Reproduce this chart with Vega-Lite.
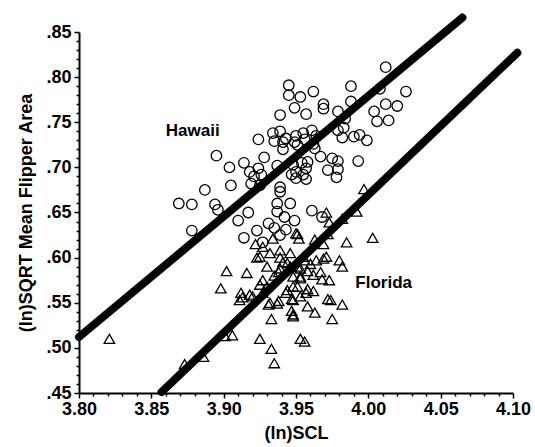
{
  "$schema": "https://vega.github.io/schema/vega-lite/v6.json",
  "autosize": {"type": "none"},
  "padding": {"left": 79, "top": 32, "right": 22, "bottom": 54},
  "width": 434,
  "height": 361,
  "background": "white",
  "config": {
    "view": {"stroke": null},
    "font": "Liberation Sans"
  },
  "datasets": {
    "pts": [
      {"x": 4.012, "y": 0.811, "site": "Hawaii"},
      {"x": 3.945, "y": 0.791, "site": "Hawaii"},
      {"x": 3.988, "y": 0.790, "site": "Hawaii"},
      {"x": 3.962, "y": 0.784, "site": "Hawaii"},
      {"x": 3.945, "y": 0.780, "site": "Hawaii"},
      {"x": 3.953, "y": 0.778, "site": "Hawaii"},
      {"x": 4.026, "y": 0.784, "site": "Hawaii"},
      {"x": 4.008, "y": 0.787, "site": "Hawaii"},
      {"x": 3.988, "y": 0.773, "site": "Hawaii"},
      {"x": 4.012, "y": 0.770, "site": "Hawaii"},
      {"x": 4.020, "y": 0.768, "site": "Hawaii"},
      {"x": 4.004, "y": 0.762, "site": "Hawaii"},
      {"x": 3.969, "y": 0.770, "site": "Hawaii"},
      {"x": 3.969, "y": 0.765, "site": "Hawaii"},
      {"x": 3.949, "y": 0.766, "site": "Hawaii"},
      {"x": 3.979, "y": 0.762, "site": "Hawaii"},
      {"x": 3.957, "y": 0.759, "site": "Hawaii"},
      {"x": 3.939, "y": 0.758, "site": "Hawaii"},
      {"x": 4.006, "y": 0.751, "site": "Hawaii"},
      {"x": 4.014, "y": 0.752, "site": "Hawaii"},
      {"x": 3.984, "y": 0.754, "site": "Hawaii"},
      {"x": 3.983, "y": 0.744, "site": "Hawaii"},
      {"x": 3.934, "y": 0.738, "site": "Hawaii"},
      {"x": 3.939, "y": 0.740, "site": "Hawaii"},
      {"x": 3.943, "y": 0.732, "site": "Hawaii"},
      {"x": 3.961, "y": 0.741, "site": "Hawaii"},
      {"x": 3.964, "y": 0.735, "site": "Hawaii"},
      {"x": 3.950, "y": 0.735, "site": "Hawaii"},
      {"x": 3.955, "y": 0.738, "site": "Hawaii"},
      {"x": 3.924, "y": 0.731, "site": "Hawaii"},
      {"x": 3.935, "y": 0.729, "site": "Hawaii"},
      {"x": 3.941, "y": 0.728, "site": "Hawaii"},
      {"x": 3.949, "y": 0.728, "site": "Hawaii"},
      {"x": 3.951, "y": 0.725, "site": "Hawaii"},
      {"x": 3.956, "y": 0.731, "site": "Hawaii"},
      {"x": 3.962, "y": 0.726, "site": "Hawaii"},
      {"x": 3.982, "y": 0.733, "site": "Hawaii"},
      {"x": 3.990, "y": 0.734, "site": "Hawaii"},
      {"x": 3.994, "y": 0.736, "site": "Hawaii"},
      {"x": 3.999, "y": 0.730, "site": "Hawaii"},
      {"x": 3.979, "y": 0.741, "site": "Hawaii"},
      {"x": 3.963, "y": 0.721, "site": "Hawaii"},
      {"x": 3.941, "y": 0.720, "site": "Hawaii"},
      {"x": 3.928, "y": 0.711, "site": "Hawaii"},
      {"x": 3.967, "y": 0.712, "site": "Hawaii"},
      {"x": 3.975, "y": 0.710, "site": "Hawaii"},
      {"x": 3.979, "y": 0.707, "site": "Hawaii"},
      {"x": 3.993, "y": 0.707, "site": "Hawaii"},
      {"x": 3.958, "y": 0.706, "site": "Hawaii"},
      {"x": 3.937, "y": 0.702, "site": "Hawaii"},
      {"x": 3.914, "y": 0.705, "site": "Hawaii"},
      {"x": 3.895, "y": 0.713, "site": "Hawaii"},
      {"x": 3.904, "y": 0.700, "site": "Hawaii"},
      {"x": 3.918, "y": 0.695, "site": "Hawaii"},
      {"x": 3.924, "y": 0.699, "site": "Hawaii"},
      {"x": 3.921, "y": 0.690, "site": "Hawaii"},
      {"x": 3.926, "y": 0.692, "site": "Hawaii"},
      {"x": 3.919, "y": 0.682, "site": "Hawaii"},
      {"x": 3.925, "y": 0.680, "site": "Hawaii"},
      {"x": 3.905, "y": 0.680, "site": "Hawaii"},
      {"x": 3.948, "y": 0.703, "site": "Hawaii"},
      {"x": 3.954, "y": 0.705, "site": "Hawaii"},
      {"x": 3.957, "y": 0.699, "site": "Hawaii"},
      {"x": 3.950, "y": 0.695, "site": "Hawaii"},
      {"x": 3.947, "y": 0.692, "site": "Hawaii"},
      {"x": 3.955, "y": 0.692, "site": "Hawaii"},
      {"x": 3.950, "y": 0.688, "site": "Hawaii"},
      {"x": 3.957, "y": 0.687, "site": "Hawaii"},
      {"x": 3.972, "y": 0.697, "site": "Hawaii"},
      {"x": 3.979, "y": 0.698, "site": "Hawaii"},
      {"x": 3.978, "y": 0.689, "site": "Hawaii"},
      {"x": 3.887, "y": 0.675, "site": "Hawaii"},
      {"x": 3.869, "y": 0.660, "site": "Hawaii"},
      {"x": 3.878, "y": 0.659, "site": "Hawaii"},
      {"x": 3.894, "y": 0.659, "site": "Hawaii"},
      {"x": 3.896, "y": 0.653, "site": "Hawaii"},
      {"x": 3.878, "y": 0.630, "site": "Hawaii"},
      {"x": 3.910, "y": 0.641, "site": "Hawaii"},
      {"x": 3.917, "y": 0.650, "site": "Hawaii"},
      {"x": 3.914, "y": 0.622, "site": "Hawaii"},
      {"x": 3.923, "y": 0.630, "site": "Hawaii"},
      {"x": 3.939, "y": 0.678, "site": "Hawaii"},
      {"x": 3.939, "y": 0.673, "site": "Hawaii"},
      {"x": 3.937, "y": 0.660, "site": "Hawaii"},
      {"x": 3.946, "y": 0.660, "site": "Hawaii"},
      {"x": 3.937, "y": 0.651, "site": "Hawaii"},
      {"x": 3.942, "y": 0.645, "site": "Hawaii"},
      {"x": 3.949, "y": 0.641, "site": "Hawaii"},
      {"x": 3.931, "y": 0.638, "site": "Hawaii"},
      {"x": 3.935, "y": 0.633, "site": "Hawaii"},
      {"x": 3.961, "y": 0.652, "site": "Hawaii"},
      {"x": 3.968, "y": 0.645, "site": "Hawaii"},
      {"x": 3.939, "y": 0.625, "site": "Hawaii"},
      {"x": 3.927, "y": 0.617, "site": "Hawaii"},
      {"x": 3.943, "y": 0.631, "site": "Hawaii"},
      {"x": 3.997, "y": 0.676, "site": "Florida"},
      {"x": 3.971, "y": 0.650, "site": "Florida"},
      {"x": 3.992, "y": 0.651, "site": "Florida"},
      {"x": 3.973, "y": 0.639, "site": "Florida"},
      {"x": 3.982, "y": 0.643, "site": "Florida"},
      {"x": 3.951, "y": 0.626, "site": "Florida"},
      {"x": 3.952, "y": 0.621, "site": "Florida"},
      {"x": 3.934, "y": 0.621, "site": "Florida"},
      {"x": 3.963, "y": 0.620, "site": "Florida"},
      {"x": 3.922, "y": 0.615, "site": "Florida"},
      {"x": 3.972, "y": 0.626, "site": "Florida"},
      {"x": 3.969, "y": 0.615, "site": "Florida"},
      {"x": 3.985, "y": 0.617, "site": "Florida"},
      {"x": 4.003, "y": 0.622, "site": "Florida"},
      {"x": 3.925, "y": 0.601, "site": "Florida"},
      {"x": 3.932, "y": 0.605, "site": "Florida"},
      {"x": 3.939, "y": 0.608, "site": "Florida"},
      {"x": 3.946, "y": 0.605, "site": "Florida"},
      {"x": 3.956, "y": 0.597, "site": "Florida"},
      {"x": 3.969, "y": 0.599, "site": "Florida"},
      {"x": 3.980, "y": 0.597, "site": "Florida"},
      {"x": 3.982, "y": 0.590, "site": "Florida"},
      {"x": 3.902, "y": 0.585, "site": "Florida"},
      {"x": 3.916, "y": 0.583, "site": "Florida"},
      {"x": 3.898, "y": 0.566, "site": "Florida"},
      {"x": 3.939, "y": 0.588, "site": "Florida"},
      {"x": 3.951, "y": 0.590, "site": "Florida"},
      {"x": 3.948, "y": 0.579, "site": "Florida"},
      {"x": 3.953, "y": 0.579, "site": "Florida"},
      {"x": 3.962, "y": 0.581, "site": "Florida"},
      {"x": 3.968, "y": 0.576, "site": "Florida"},
      {"x": 3.973, "y": 0.575, "site": "Florida"},
      {"x": 3.912, "y": 0.561, "site": "Florida"},
      {"x": 3.913, "y": 0.556, "site": "Florida"},
      {"x": 3.920, "y": 0.557, "site": "Florida"},
      {"x": 3.927, "y": 0.561, "site": "Florida"},
      {"x": 3.948, "y": 0.568, "site": "Florida"},
      {"x": 3.958, "y": 0.565, "site": "Florida"},
      {"x": 3.962, "y": 0.563, "site": "Florida"},
      {"x": 3.943, "y": 0.561, "site": "Florida"},
      {"x": 3.932, "y": 0.550, "site": "Florida"},
      {"x": 3.938, "y": 0.552, "site": "Florida"},
      {"x": 3.947, "y": 0.554, "site": "Florida"},
      {"x": 3.953, "y": 0.557, "site": "Florida"},
      {"x": 3.958, "y": 0.546, "site": "Florida"},
      {"x": 3.963, "y": 0.539, "site": "Florida"},
      {"x": 3.972, "y": 0.554, "site": "Florida"},
      {"x": 3.982, "y": 0.548, "site": "Florida"},
      {"x": 3.947, "y": 0.541, "site": "Florida"},
      {"x": 3.948, "y": 0.537, "site": "Florida"},
      {"x": 3.933, "y": 0.532, "site": "Florida"},
      {"x": 3.975, "y": 0.532, "site": "Florida"},
      {"x": 3.925, "y": 0.510, "site": "Florida"},
      {"x": 3.906, "y": 0.514, "site": "Florida"},
      {"x": 3.901, "y": 0.513, "site": "Florida"},
      {"x": 3.953, "y": 0.510, "site": "Florida"},
      {"x": 3.956, "y": 0.507, "site": "Florida"},
      {"x": 3.933, "y": 0.499, "site": "Florida"},
      {"x": 3.935, "y": 0.483, "site": "Florida"},
      {"x": 3.821, "y": 0.510, "site": "Florida"},
      {"x": 3.873, "y": 0.482, "site": "Florida"},
      {"x": 3.886, "y": 0.490, "site": "Florida"},
      {"x": 3.923, "y": 0.600, "site": "Florida"},
      {"x": 3.939, "y": 0.600, "site": "Florida"},
      {"x": 3.955, "y": 0.601, "site": "Florida"},
      {"x": 3.964, "y": 0.597, "site": "Florida"},
      {"x": 3.971, "y": 0.601, "site": "Florida"},
      {"x": 3.930, "y": 0.590, "site": "Florida"},
      {"x": 3.938, "y": 0.584, "site": "Florida"},
      {"x": 3.944, "y": 0.594, "site": "Florida"},
      {"x": 3.953, "y": 0.588, "site": "Florida"},
      {"x": 3.953, "y": 0.577, "site": "Florida"},
      {"x": 3.967, "y": 0.584, "site": "Florida"},
      {"x": 3.918, "y": 0.559, "site": "Florida"},
      {"x": 3.911, "y": 0.553, "site": "Florida"},
      {"x": 3.930, "y": 0.568, "site": "Florida"},
      {"x": 3.944, "y": 0.564, "site": "Florida"},
      {"x": 3.951, "y": 0.568, "site": "Florida"},
      {"x": 3.957, "y": 0.561, "site": "Florida"},
      {"x": 3.948, "y": 0.553, "site": "Florida"},
      {"x": 3.931, "y": 0.548, "site": "Florida"},
      {"x": 3.937, "y": 0.549, "site": "Florida"},
      {"x": 3.948, "y": 0.535, "site": "Florida"},
      {"x": 3.974, "y": 0.553, "site": "Florida"},
      {"x": 3.950, "y": 0.627, "site": "Florida"},
      {"x": 3.927, "y": 0.612, "site": "Florida"},
      {"x": 3.941, "y": 0.595, "site": "Florida"},
      {"x": 3.946, "y": 0.590, "site": "Florida"},
      {"x": 3.935, "y": 0.580, "site": "Florida"},
      {"x": 3.927, "y": 0.575, "site": "Florida"},
      {"x": 3.925, "y": 0.570, "site": "Florida"},
      {"x": 3.960, "y": 0.593, "site": "Florida"},
      {"x": 3.958, "y": 0.585, "site": "Florida"}
    ],
    "lines": [
      {"x": 3.80, "y": 0.512, "site": "Hawaii"},
      {"x": 4.065, "y": 0.866, "site": "Hawaii"},
      {"x": 3.857, "y": 0.451, "site": "Florida"},
      {"x": 4.103, "y": 0.827, "site": "Florida"}
    ],
    "labels": [
      {"x": 3.86, "y": 0.740, "text": "Hawaii"},
      {"x": 3.991, "y": 0.572, "text": "Florida"}
    ]
  },
  "encoding": {
    "x": {
      "field": "x", "type": "quantitative",
      "scale": {"domain": [3.80, 4.10], "zero": false, "nice": false},
      "axis": {
        "title": "(ln)SCL",
        "titleFontSize": 18, "titleFontWeight": "bold", "titleColor": "black", "titlePadding": 6,
        "values": [3.80,3.81,3.82,3.83,3.84,3.85,3.86,3.87,3.88,3.89,3.90,3.91,3.92,3.93,3.94,3.95,3.96,3.97,3.98,3.99,4.00,4.01,4.02,4.03,4.04,4.05,4.06,4.07,4.08,4.09,4.10],
        "labelExpr": "round(datum.value*100) % 5 === 0 ? format(datum.value, '.2f') : ''",
        "labelFontSize": 18, "labelFontWeight": "bold", "labelColor": "black",
        "labelOverlap": false, "labelFlush": false, "labelPadding": 2,
        "tickSize": {"condition": {"test": "round(datum.value*100) % 5 === 0", "value": 5}, "value": 3},
        "tickColor": "black", "tickWidth": 1.5,
        "domainColor": "black", "domainWidth": 2, "grid": false
      }
    },
    "y": {
      "field": "y", "type": "quantitative",
      "scale": {"domain": [0.45, 0.85], "zero": false, "nice": false},
      "axis": {
        "title": "(ln)SQRT Mean Flipper Area",
        "titleFontSize": 18, "titleFontWeight": "bold", "titleColor": "black", "titlePadding": 10,
        "values": [0.45,0.46,0.47,0.48,0.49,0.50,0.51,0.52,0.53,0.54,0.55,0.56,0.57,0.58,0.59,0.60,0.61,0.62,0.63,0.64,0.65,0.66,0.67,0.68,0.69,0.70,0.71,0.72,0.73,0.74,0.75,0.76,0.77,0.78,0.79,0.80,0.81,0.82,0.83,0.84,0.85],
        "labelExpr": "round(datum.value*100) % 5 === 0 ? replace(format(datum.value, '.2f'), '0.', '.') : ''",
        "labelFontSize": 18, "labelFontWeight": "bold", "labelColor": "black",
        "labelOverlap": false, "labelFlush": false, "labelPadding": 3,
        "tickSize": {"condition": {"test": "round(datum.value*100) % 5 === 0", "value": 5}, "value": 3},
        "tickColor": "black", "tickWidth": 1.5,
        "domainColor": "black", "domainWidth": 2, "grid": false
      }
    }
  },
  "layer": [
    {
      "data": {"name": "pts"},
      "mark": {"type": "point", "filled": false, "color": "black", "strokeWidth": 1.3, "opacity": 1, "size": 110},
      "encoding": {
        "shape": {
          "field": "site", "type": "nominal",
          "scale": {"domain": ["Hawaii", "Florida"], "range": ["circle", "triangle-up"]},
          "legend": null
        }
      }
    },
    {
      "data": {"name": "lines"},
      "mark": {"type": "line", "color": "black", "strokeWidth": 8, "strokeCap": "round", "clip": false},
      "encoding": {
        "detail": {"field": "site", "type": "nominal"}
      }
    },
    {
      "data": {"name": "labels"},
      "mark": {"type": "text", "align": "left", "baseline": "middle", "fontSize": 17, "fontWeight": "bold", "color": "black"},
      "encoding": {
        "text": {"field": "text", "type": "nominal"}
      }
    }
  ]
}
